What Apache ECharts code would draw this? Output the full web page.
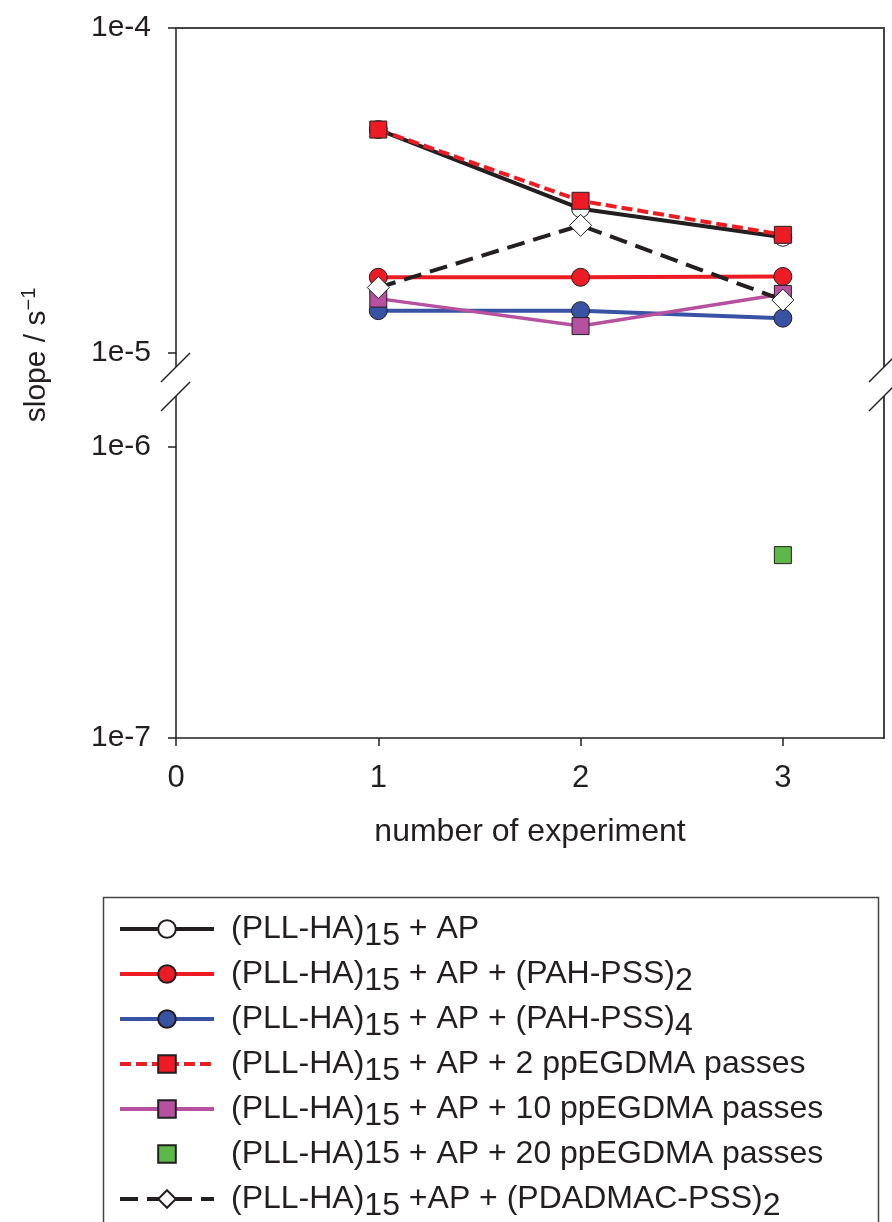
<!DOCTYPE html>
<html><head><meta charset="utf-8">
<script src="https://cdn.jsdelivr.net/npm/echarts@6/dist/echarts.min.js"></script>
<style>html,body{margin:0;padding:0;background:#fff}#c{width:892px;height:1222px}</style>
</head><body><div id="c"></div>
<script>
// ---- data ----
const experiments = [1, 2, 3];
const s_ap        = [4.87e-5, 2.78e-5, 2.27e-5];
const s_pah2      = [1.71e-5, 1.71e-5, 1.72e-5];
const s_pah4      = [1.35e-5, 1.35e-5, 1.28e-5];
const s_pp2       = [4.87e-5, 2.94e-5, 2.31e-5];
const s_pp10      = [1.47e-5, 1.21e-5, 1.52e-5];
const exp_pp20    = [3];
const s_pp20      = [4.25e-7];
const s_pdadmac   = [1.59e-5, 2.47e-5, 1.455e-5];
const xTicks      = [0, 1, 2, 3];
const yTickValues = [1e-4, 1e-5, 1e-6, 1e-7];
const yTickLabels = ['1e-4', '1e-5', '1e-6', '1e-7'];
const seriesNames = [
  '(PLL-HA)15 + AP',
  '(PLL-HA)15 + AP + (PAH-PSS)2',
  '(PLL-HA)15 + AP + (PAH-PSS)4',
  '(PLL-HA)15 + AP + 2 ppEGDMA passes',
  '(PLL-HA)15 + AP + 10 ppEGDMA passes',
  '(PLL-HA)15 + AP + 20 ppEGDMA passes',
  '(PLL-HA)15 +AP + (PDADMAC-PSS)2'
];
const legendRich = [
  '{f|(PLL-HA)}{s|15}{m| + AP}',
  '{f|(PLL-HA)}{s|15}{m| + AP + (PAH-PSS)}{s|2}',
  '{f|(PLL-HA)}{s|15}{m| + AP + (PAH-PSS)}{s|4}',
  '{f|(PLL-HA)}{s|15}{m| + AP + 2 ppEGDMA passes}',
  '{f|(PLL-HA)}{s|15}{m| + AP + 10 ppEGDMA passes}',
  '{f|(PLL-HA)15 + AP + 20 ppEGDMA passes}{s| }',
  '{f|(PLL-HA)}{s|15}{m| +AP + (PDADMAC-PSS)}{s|2}'
];
const xTitle = 'number of experiment';

// ---- style ----
const FONT = '"Liberation Sans", Arial, Helvetica, sans-serif';
const DARK = '#231f20';
const FS = 30;
function pairs(xs, ys) { return xs.map((x, i) => [x, ys[i]]); }
function yLabel(v) {
  const l = Math.log10(v);
  for (let i = 0; i < yTickValues.length; i++) {
    if (Math.abs(Math.log10(yTickValues[i]) - l) < 1e-6) return yTickLabels[i];
  }
  return '';
}
const chart = echarts.init(document.getElementById('c'), null, {renderer: 'canvas'});

function lineSeries(name, ys, color, fill, symbol, size, lineType, lineWidth) {
  return {
    name: name, type: 'line', xAxisIndex: 0, yAxisIndex: 0,
    data: pairs(experiments, ys),
    symbol: symbol, symbolSize: size, showAllSymbol: true,
    lineStyle: {color: color, width: lineWidth, type: lineType},
    itemStyle: {color: fill, borderColor: DARK, borderWidth: 1},
    emphasis: {disabled: true}
  };
}

const legendStyleMain = {fontFamily: FONT, fontSize: 32, color: DARK, lineHeight: 30};
const option = {
  animation: false,
  backgroundColor: '#fff',
  grid: [
    {left: 176, top: 28, width: 708, height: 325},
    {left: 176, top: 447, width: 708, height: 291}
  ],
  xAxis: [
    {gridIndex: 0, type: 'value', min: 0, max: 3.5, position: 'top',
     axisLine: {show: true, onZero: false, lineStyle: {color: '#444', width: 2}},
     axisTick: {show: false}, axisLabel: {show: false}, splitLine: {show: false}},
    {gridIndex: 1, type: 'value', min: 0, max: 3.5, interval: 1, position: 'bottom',
     axisLine: {show: true, onZero: false, lineStyle: {color: DARK, width: 1.5}},
     axisTick: {show: true, length: 8, customValues: xTicks, lineStyle: {color: DARK, width: 1.5}},
     axisLabel: {margin: 25, fontSize: 31, color: DARK, fontFamily: FONT, customValues: xTicks,
                 formatter: v => String(v)},
     splitLine: {show: false},
     name: xTitle, nameLocation: 'middle', nameGap: 78,
     nameTextStyle: {fontSize: 32, color: DARK, fontFamily: FONT}}
  ],
  yAxis: [
    {gridIndex: 0, type: 'log', logBase: 10, min: 1e-5, max: 1e-4,
     axisLine: {show: true, onZero: false, lineStyle: {color: DARK, width: 1.5}},
     axisTick: {show: true, length: 8, lineStyle: {color: DARK, width: 1.5}},
     minorTick: {show: false},
     axisLabel: {margin: 25, fontSize: FS, color: DARK, fontFamily: FONT, formatter: yLabel},
     splitLine: {show: false}},
    {gridIndex: 1, type: 'log', logBase: 10, min: 1e-7, max: 1e-6,
     axisLine: {show: true, onZero: false, lineStyle: {color: DARK, width: 1.5}},
     axisTick: {show: true, length: 8, lineStyle: {color: DARK, width: 1.5}},
     minorTick: {show: false},
     axisLabel: {margin: 25, fontSize: FS, color: DARK, fontFamily: FONT, formatter: yLabel},
     splitLine: {show: false}},
    {gridIndex: 0, type: 'value', position: 'right', min: 0, max: 1,
     axisLine: {show: true, onZero: false, lineStyle: {color: '#444', width: 2}},
     axisTick: {show: false}, axisLabel: {show: false}, splitLine: {show: false}},
    {gridIndex: 1, type: 'value', position: 'right', min: 0, max: 1,
     axisLine: {show: true, onZero: false, lineStyle: {color: '#444', width: 2}},
     axisTick: {show: false}, axisLabel: {show: false}, splitLine: {show: false}}
  ],
  legend: {
    orient: 'vertical', left: 118, top: 906, padding: 0, itemGap: -1,
    itemWidth: 94, itemHeight: 22, selectedMode: false,
    data: seriesNames,
    lineStyle: {width: 4},
    formatter: function (name) { return legendRich[seriesNames.indexOf(name)]; },
    textStyle: {
      fontFamily: FONT, fontSize: 32, color: DARK,
      rich: {
        f: Object.assign({}, legendStyleMain, {padding: [0, 0, 0, 12]}),
        m: Object.assign({}, legendStyleMain),
        s: Object.assign({}, legendStyleMain, {padding: [14, 0, 0, 0]})
      }
    }
  },
  series: [
    lineSeries(seriesNames[0], s_ap, DARK, '#ffffff', 'circle', 18, 'solid', 4),
    lineSeries(seriesNames[1], s_pah2, '#ed1c24', '#ed1c24', 'circle', 18, 'solid', 4),
    lineSeries(seriesNames[2], s_pah4, '#3953a4', '#3953a4', 'circle', 18, 'solid', 4),
    lineSeries(seriesNames[3], s_pp2, '#ed1c24', '#ed1c24', 'rect', 17, [11, 5], 4),
    lineSeries(seriesNames[4], s_pp10, '#b5519f', '#b5519f', 'rect', 17, 'solid', 3.5),
    {
      name: seriesNames[5], type: 'line', xAxisIndex: 1, yAxisIndex: 1,
      data: pairs(exp_pp20, s_pp20), symbol: 'rect', symbolSize: 17,
      lineStyle: {color: '#5db947', width: 0, opacity: 0},
      itemStyle: {color: '#5db947', borderColor: DARK, borderWidth: 1},
      emphasis: {disabled: true}
    },
    lineSeries(seriesNames[6], s_pdadmac, DARK, '#ffffff', 'diamond', 22, [18, 9], 4)
  ],
  graphic: [
    // axis continuation beyond the break
    {type: 'line', shape: {x1: 176, y1: 353, x2: 176, y2: 367}, style: {stroke: DARK, lineWidth: 1.5}},
    {type: 'line', shape: {x1: 176, y1: 396, x2: 176, y2: 447}, style: {stroke: DARK, lineWidth: 1.5}},
    {type: 'line', shape: {x1: 884, y1: 353, x2: 884, y2: 367}, style: {stroke: '#444', lineWidth: 2}},
    {type: 'line', shape: {x1: 884, y1: 396, x2: 884, y2: 447}, style: {stroke: '#444', lineWidth: 2}},
    // break marks
    {type: 'line', shape: {x1: 161, y1: 382, x2: 190, y2: 353}, style: {stroke: DARK, lineWidth: 1.5}},
    {type: 'line', shape: {x1: 161, y1: 411, x2: 190, y2: 382}, style: {stroke: DARK, lineWidth: 1.5}},
    {type: 'line', shape: {x1: 869, y1: 382, x2: 898, y2: 353}, style: {stroke: DARK, lineWidth: 1.5}},
    {type: 'line', shape: {x1: 869, y1: 411, x2: 898, y2: 382}, style: {stroke: DARK, lineWidth: 1.5}},
    // legend frame
    {type: 'rect', shape: {x: 103.5, y: 897.5, width: 775, height: 400},
     style: {fill: 'none', stroke: '#444', lineWidth: 1.5}, z: -1},
    // y axis title
    {type: 'text', x: 37, y: 355, rotation: Math.PI / 2,
     style: {text: '{m|slope / s}{p|\u22121}', align: 'center', verticalAlign: 'middle',
             rich: {m: {fontFamily: FONT, fontSize: 30, fill: DARK, lineHeight: 30},
                    p: {fontFamily: FONT, fontSize: 20, fill: DARK, lineHeight: 20, padding: [0, 0, 16, 0]}}}}
  ]
};
chart.setOption(option);
</script>
</body></html>
